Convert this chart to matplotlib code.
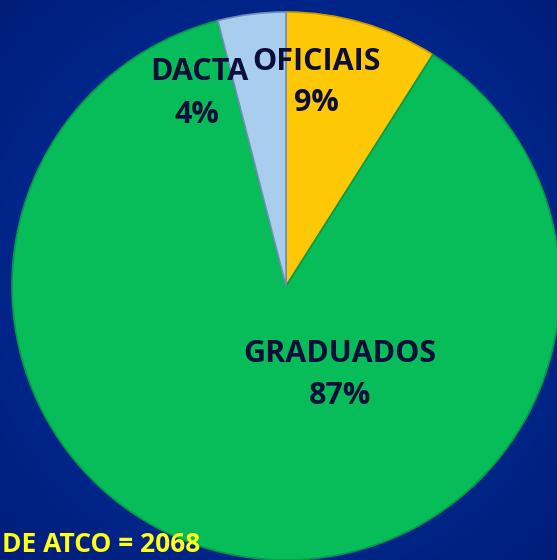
import numpy as np
import matplotlib
matplotlib.use("Agg")
import matplotlib.pyplot as plt

categories = ["OFICIAIS", "GRADUADOS", "DACTA"]
values = [9, 87, 4]
pct_labels = ["9%", "87%", "4%"]
total_text = "DE ATCO = 2068"

colors = ["#ffc806", "#06bd5a", "#a9cdec"]
edges = ["#c89a00", "#049a48", "#6f8fb8"]

W, H = 557, 560
fig = plt.figure(figsize=(W / 100, H / 100), dpi=100)
ax = fig.add_axes([0, 0, 1, 1])
ax.set_axis_off()

# background radial gradient
yy, xx = np.mgrid[0:H, 0:W]
r = np.sqrt(((xx - W / 2) / W) ** 2 + ((yy - H / 2) / H) ** 2)
r = np.clip(r / 0.72, 0, 1)
c_in = np.array([0x02, 0x38, 0xac]) / 255
c_out = np.array([0x00, 0x1c, 0x78]) / 255
img = c_in[None, None, :] * (1 - r[..., None]) + c_out[None, None, :] * r[..., None]
ax.imshow(img, extent=[0, W, 0, H], origin="upper", zorder=0, aspect="auto")

cx, cy, R = 286, H - 286, 274
wedges, _ = ax.pie(values, colors=colors, startangle=90, counterclock=False,
                   center=(cx, cy), radius=R, frame=True,
                   wedgeprops=dict(linewidth=1.2, zorder=2))
for w, e in zip(wedges, edges):
    w.set_edgecolor(e)

ax.set_xlim(0, W)
ax.set_ylim(0, H)
ax.set_aspect("auto")
ax.set_axis_off()

txt_color = "#0b0d3a"
font = "Open Sans"
name_pos = [(316, 62), (340, 354), (199, 72)]
pct_pos = [(316, 103), (340, 396), (197, 115)]
for name, pct, (nx, ny), (px, py) in zip(categories, pct_labels, name_pos, pct_pos):
    ax.text(nx, H - ny, name, ha="center", va="center", fontsize=22,
            fontweight="bold", color=txt_color, family=font, zorder=5)
    ax.text(px, H - py, pct, ha="center", va="center", fontsize=22,
            fontweight="bold", color=txt_color, family=font, zorder=5)

ax.text(2, H - 552, total_text, ha="left", va="baseline", fontsize=19,
        fontweight="bold", color="#ffff1a", family=font, zorder=6)

fig.savefig("out.png", dpi=100)
